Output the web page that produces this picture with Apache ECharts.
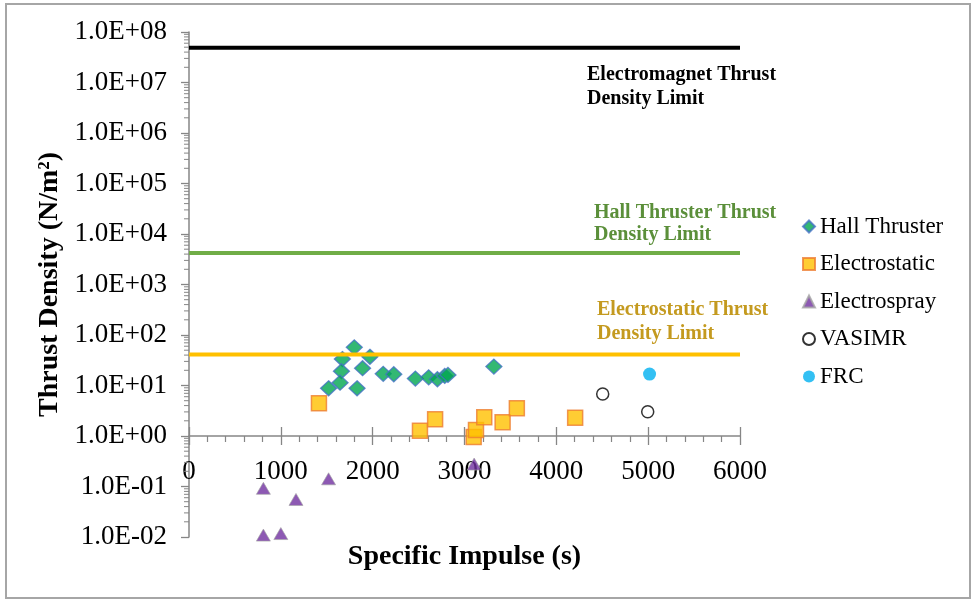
<!DOCTYPE html>
<html>
<head>
<meta charset="utf-8">
<script src="https://cdn.jsdelivr.net/npm/echarts@6/dist/echarts.min.js"></script>
<style>
html,body{margin:0;padding:0;background:#fff;}
#chart{position:absolute;left:0;top:0;width:973px;height:600px;}
</style>
</head>
<body>
<div id="chart"></div>
<script>
// ---- data ----
const xTicks = [0, 1000, 2000, 3000, 4000, 5000, 6000];
const yTickLabels = ['1.0E-02','1.0E-01','1.0E+00','1.0E+01','1.0E+02','1.0E+03','1.0E+04','1.0E+05','1.0E+06','1.0E+07','1.0E+08'];
const yMinorMultipliers = [2,3,4,5,6,7,8,9];

const seriesNames = ['Hall Thruster','Electrostatic','Electrospray','VASIMR','FRC'];

const hallX = [1800, 1670, 1970, 1660, 1890, 1520, 1645, 1830, 2115, 2230, 2465, 2610, 2705, 2785, 2820, 3320];
const hallY = [57, 33.4, 37, 19.2, 22, 8.8, 11.4, 8.8, 17, 16.7, 13.7, 14.5, 13.3, 15.5, 16.2, 23.7];

const elecX = [1415, 2515, 2680, 3100, 3125, 3215, 3415, 3570, 4205];
const elecY = [4.45, 1.27, 2.14, 0.95, 1.32, 2.35, 1.87, 3.55, 2.31];

const sprayX = [810, 810, 1000, 1165, 1520, 3105];
const sprayY = [0.092, 0.0109, 0.0117, 0.0555, 0.142, 0.278];

const vasX = [4505, 4995];
const vasY = [6.8, 3.03];

const frcX = [5015];
const frcY = [16.8];

const limitNames = ['Electromagnet Thrust\nDensity Limit', 'Hall Thruster Thrust\nDensity Limit', 'Electrostatic Thrust\nDensity Limit'];
const limitValues = [4.9e7, 4200, 41];
const limitXRange = [0, 6000];

// ---- helpers ----
const zip = (xs, ys) => xs.map((x, i) => [x, ys[i]]);
const yMin = 1e-2, yMax = 1e8, xCrossAt = 1;
const decades = yTickLabels.map((_, i) => i - 2);
const minorData = [];
decades.slice(0, -1).forEach(d => yMinorMultipliers.forEach(m => minorData.push([0, m * Math.pow(10, d)])));

const FONT = '"Liberation Serif", "Times New Roman", serif';
const AXIS_COLOR = '#868686';
const limitColors = ['#000000', '#70AD47', '#FFC000'];
const limitTextColors = ['#000000', '#5b8f3a', '#c49a1f'];
const limitTextPos = [[587, 63.5], [594, 201.5], [597, 298]];
const limitTextLH = [23.5, 22.5, 24];

const GRID = {left: 189, right: 233, top: 32, bottom: 63};
const H = 600;
const gridH = H - GRID.top - GRID.bottom;
const frac = (Math.log10(xCrossAt) - Math.log10(yMin)) / (Math.log10(yMax) - Math.log10(yMin));
const xOffset = -gridH * frac;

const chart = echarts.init(document.getElementById('chart'), null, {renderer: 'canvas'});

const xBase = {
  type: 'value', min: xTicks[0], max: xTicks[xTicks.length - 1], interval: xTicks[1] - xTicks[0],
  position: 'bottom', offset: xOffset, splitLine: {show: false}
};

const option = {
  animation: false,
  backgroundColor: '#ffffff',
  grid: Object.assign({containLabel: false}, GRID),
  xAxis: [
    Object.assign({}, xBase, {
      name: 'Specific Impulse (s)', nameLocation: 'middle', nameGap: 107,
      nameTextStyle: {fontFamily: FONT, fontSize: 28, fontWeight: 'bold', color: '#000'},
      axisLine: {show: true, onZero: false, lineStyle: {color: AXIS_COLOR, width: 1.5}},
      axisTick: {show: true, inside: false, length: 9, lineStyle: {color: AXIS_COLOR, width: 1.3}},
      minorTick: {show: true, splitNumber: 5, length: 6, lineStyle: {color: AXIS_COLOR, width: 1.2}},
      axisLabel: {show: true, margin: 22, fontFamily: FONT, fontSize: 27, color: '#000', formatter: v => String(v)}
    }),
    Object.assign({}, xBase, {
      axisLine: {show: false, onZero: false},
      axisTick: {show: true, inside: true, length: 9, lineStyle: {color: AXIS_COLOR, width: 1.3}},
      axisLabel: {show: false}
    })
  ],
  yAxis: {
    type: 'log', logBase: 10, min: yMin, max: yMax, interval: 1,
    name: 'Thrust Density (N/m\u00B2)', nameLocation: 'middle', nameGap: 122,
    nameTextStyle: {fontFamily: FONT, fontSize: 28, fontWeight: 'bold', color: '#000'},
    axisLine: {show: true, lineStyle: {color: AXIS_COLOR, width: 1.5}},
    axisTick: {show: true, inside: false, length: 8, lineStyle: {color: AXIS_COLOR, width: 1.3}},
    splitLine: {show: false},
    axisLabel: {
      margin: 22, fontFamily: FONT, fontSize: 27, color: '#000',
      formatter: v => yTickLabels[Math.round(Math.log10(v)) + 2]
    }
  },
  legend: {
    data: seriesNames, orient: 'vertical', left: 797, top: 210,
    itemWidth: 12, itemHeight: 12, itemGap: 14.5,
    textStyle: {fontFamily: FONT, fontSize: 23, color: '#000'}
  },
  graphic: [
    {type: 'rect', shape: {x: 6, y: 4, width: 964, height: 594}, style: {fill: 'none', stroke: '#a6a6a6', lineWidth: 2}, silent: true}
  ].concat(limitNames.map((t, i) => ({
    type: 'text', x: limitTextPos[i][0], y: limitTextPos[i][1], silent: true, z: 10,
    style: {text: t, font: 'bold 20px ' + FONT, fill: limitTextColors[i], lineHeight: limitTextLH[i], verticalAlign: 'top', align: 'left'}
  }))),
  series: [
    {
      type: 'custom', silent: true, clip: false, data: minorData, encode: {x: 0, y: 1}, z: 1,
      renderItem: (params, api) => {
        const p = api.coord([api.value(0), api.value(1)]);
        return {type: 'line', shape: {x1: p[0] - 5, y1: p[1], x2: p[0], y2: p[1]}, style: {stroke: AXIS_COLOR, lineWidth: 1}};
      }
    },
    {name: seriesNames[0], type: 'scatter', data: zip(hallX, hallY), symbol: 'diamond', symbolSize: [16, 15],
      itemStyle: {color: '#00A650', borderColor: '#4472C4', borderWidth: 1.3}, z: 3},
    {name: seriesNames[1], type: 'scatter', data: zip(elecX, elecY), symbol: 'rect', symbolSize: 15,
      itemStyle: {color: '#FFC000', borderColor: '#ED7D31', borderWidth: 1.5}, z: 3},
    {name: seriesNames[2], type: 'scatter', data: zip(sprayX, sprayY), symbol: 'triangle', symbolSize: [14, 12],
      itemStyle: {color: '#7030A0', borderColor: '#A5A5A5', borderWidth: 0.8}, z: 3},
    {name: seriesNames[3], type: 'scatter', data: zip(vasX, vasY), symbol: 'circle', symbolSize: 12,
      itemStyle: {color: '#ffffff', borderColor: '#000000', borderWidth: 1.5}, z: 3},
    {name: seriesNames[4], type: 'scatter', data: zip(frcX, frcY), symbol: 'circle', symbolSize: 13,
      itemStyle: {color: '#00B0F0'}, z: 3}
  ].concat(limitValues.map((v, i) => ({
    type: 'line', silent: true, symbol: 'none', showSymbol: false, z: 4,
    data: limitXRange.map(x => [x, v]),
    lineStyle: {color: limitColors[i], width: 4}
  })))
};

chart.setOption(option);
</script>
</body>
</html>
